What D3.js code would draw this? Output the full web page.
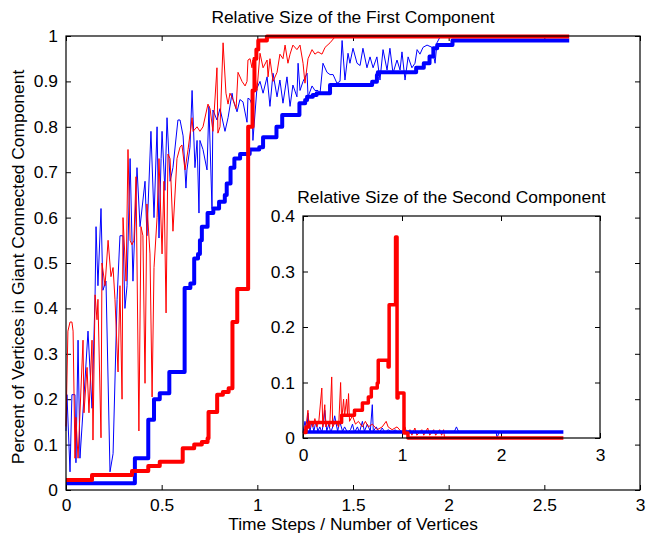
<!DOCTYPE html>
<html>
<head>
<meta charset="utf-8">
<script src="https://cdn.jsdelivr.net/npm/d3@7"></script>
<style>
  html, body { margin: 0; padding: 0; background: #fff; }
  svg { display: block; }
  text { font-family: "Liberation Sans", Arial, Helvetica, sans-serif; fill: #000; }
</style>
</head>
<body>
<div id="chart"></div>
<script>
// ---------------- DATA ----------------
const mainTitle = "Relative Size of the First Component";
const insetTitle = "Relative Size of the Second Component";
const xAxisLabel = "Time Steps / Number of Vertices";
const yAxisLabel = "Percent of Vertices in Giant Connected Component";

const mainXTicks = [0, 0.5, 1, 1.5, 2, 2.5, 3];
const mainYTicks = [0, 0.1, 0.2, 0.3, 0.4, 0.5, 0.6, 0.7, 0.8, 0.9, 1];
const insetXTicks = [0, 1, 2, 3];
const insetYTicks = [0, 0.1, 0.2, 0.3, 0.4];

// thin blue, first component
const blueThinT = [0.000,0.005,0.021,0.031,0.047,0.052,0.063,0.073,0.099,0.115,0.136,0.152,0.157,0.167,0.183,0.193,0.209,0.230,0.246,0.267,0.282,0.298,0.308,0.319,0.335,0.350,0.371,0.387,0.413,0.423,0.444,0.460,0.476,0.486,0.497,0.502,0.517,0.528,0.544,0.559,0.585,0.596,0.612,0.627,0.632,0.648,0.659,0.674,0.685,0.695,0.700,0.716,0.737,0.747,0.763,0.768,0.789,0.805,0.831,0.847,0.868,0.873,0.894,0.909,0.925,0.946,0.951,0.962,0.972,0.977,0.998,1.014,1.030,1.051,1.066,1.082,1.103,1.118,1.134,1.155,1.171,1.186,1.207,1.213,1.223,1.239,1.260,1.265,1.286,1.301,1.317,1.328,1.343,1.364,1.380,1.396,1.416,1.432,1.443,1.458,1.474,1.484,1.500,1.521,1.537,1.552,1.573,1.589,1.605,1.625,1.641,1.657,1.678,1.693,1.709,1.730,1.746,1.756,1.772,1.788,1.808,1.824,1.835,1.850,1.866,1.887,1.913,1.929,1.939,1.955,2.002];
const blueThinV = [0.13,0.21,0.04,0.21,0.21,0.06,0.33,0.07,0.24,0.35,0.18,0.43,0.58,0.45,0.62,0.44,0.46,0.04,0.08,0.42,0.56,0.56,0.40,0.45,0.73,0.46,0.71,0.58,0.68,0.56,0.79,0.60,0.80,0.555,0.73,0.79,0.66,0.82,0.68,0.71,0.815,0.815,0.78,0.665,0.705,0.755,0.88,0.71,0.77,0.61,0.77,0.75,0.705,0.845,0.62,0.837,0.815,0.84,0.79,0.82,0.874,0.86,0.833,0.86,0.855,0.81,0.863,0.86,0.848,0.77,0.885,0.90,0.874,0.91,0.845,0.918,0.866,0.903,0.852,0.91,0.845,0.892,0.866,0.94,0.88,0.90,0.918,0.866,0.89,0.88,0.88,0.875,0.94,0.92,0.915,0.915,0.896,0.90,0.99,0.903,0.962,0.94,0.973,0.94,0.935,0.973,0.93,0.954,0.93,0.954,0.903,0.97,0.925,0.973,0.918,0.947,0.925,0.965,0.903,0.954,0.93,0.94,0.97,0.96,0.975,0.98,0.975,0.94,0.985,0.998,0.998];

// thin red, first component
const redThinT = [0.000,0.010,0.021,0.031,0.037,0.047,0.052,0.063,0.089,0.094,0.110,0.120,0.136,0.141,0.152,0.162,0.167,0.183,0.188,0.204,0.220,0.235,0.246,0.256,0.272,0.282,0.293,0.298,0.314,0.324,0.335,0.345,0.355,0.366,0.381,0.392,0.402,0.413,0.423,0.439,0.450,0.460,0.476,0.486,0.502,0.512,0.523,0.533,0.544,0.559,0.580,0.596,0.606,0.622,0.638,0.659,0.664,0.685,0.700,0.716,0.742,0.753,0.768,0.789,0.794,0.805,0.821,0.836,0.847,0.857,0.873,0.889,0.899,0.920,0.936,0.946,0.951,0.962,0.972,0.977,0.998,1.014,1.030,1.051,1.056,1.066,1.082,1.103,1.118,1.134,1.145,1.160,1.171,1.186,1.207,1.223,1.239,1.249,1.265,1.286,1.301,1.317,1.338,1.354,1.380,1.406,2.002];
const redThinV = [0.14,0.35,0.37,0.37,0.35,0.07,0.16,0.07,0.33,0.17,0.27,0.17,0.33,0.11,0.43,0.375,0.42,0.115,0.50,0.45,0.55,0.47,0.49,0.42,0.26,0.45,0.20,0.60,0.46,0.75,0.55,0.54,0.55,0.69,0.13,0.58,0.56,0.235,0.63,0.52,0.205,0.49,0.60,0.73,0.52,0.68,0.39,0.74,0.73,0.57,0.73,0.755,0.76,0.705,0.75,0.82,0.79,0.80,0.79,0.80,0.85,0.84,0.79,0.93,0.786,0.80,0.985,0.874,0.85,0.874,0.86,0.84,0.92,0.90,0.89,0.90,0.947,0.95,0.93,0.947,0.88,0.962,0.93,0.947,0.91,0.95,0.90,0.92,0.96,0.95,0.98,0.94,0.96,0.98,0.97,0.98,0.94,0.896,0.95,0.97,0.96,0.965,0.96,0.975,0.985,0.998,0.998];

// thick blue, first component (step changes)
const blueThickT = [0,0.36,0.43,0.46,0.49,0.54,0.62,0.65,0.67,0.69,0.70,0.71,0.74,0.77,0.80,0.83,0.84,0.86,0.88,0.91,0.96,1.01,1.03,1.10,1.13,1.22,1.25,1.26,1.29,1.31,1.38,1.60,1.625,1.63,1.83,1.87,1.90,1.92,1.94,2.02,2.63];
const blueThickV = [0.015,0.07,0.155,0.20,0.213,0.26,0.445,0.455,0.51,0.52,0.55,0.58,0.61,0.62,0.635,0.65,0.675,0.71,0.73,0.74,0.75,0.755,0.777,0.80,0.826,0.852,0.859,0.866,0.87,0.874,0.892,0.899,0.914,0.92,0.93,0.94,0.955,0.973,0.98,0.99,0.99];

// thick red, first component (step changes)
const redThickT = [0,0.136,0.345,0.43,0.49,0.61,0.67,0.71,0.74,0.745,0.79,0.82,0.85,0.87,0.895,0.952,0.975,0.985,0.995,1.005,1.05,2.63];
const redThickV = [0.022,0.033,0.042,0.053,0.062,0.092,0.10,0.106,0.114,0.172,0.21,0.216,0.224,0.37,0.443,0.80,0.88,0.95,0.97,0.99,0.999,0.999];

// second component (inset)
const blueThinT2 = [0,0.02,0.04,0.05,0.07,0.09,0.11,0.13,0.15,0.17,0.19,0.21,0.22,0.24,0.26,0.28,0.30,0.32,0.35,0.37,0.40,0.42,0.45,0.48,0.50,0.52,0.55,0.57,0.60,0.62,0.65,0.68,0.70,0.71,0.74,0.77,0.80,0.83,0.86,0.90,0.93,0.96,1.00,1.53,1.55,1.57,1.95,1.96,1.98,2.00];
const blueThinV2 = [0.01,0.03,0.012,0.045,0.012,0.029,0.012,0.03,0.012,0.02,0.01,0.03,0.05,0.012,0.025,0.01,0.02,0.04,0.012,0.03,0.012,0.02,0.01,0.015,0.025,0.01,0.02,0.01,0.03,0.012,0.025,0.012,0.06,0.012,0.02,0.01,0.018,0.01,0.015,0.01,0.015,0.01,0.012,0.012,0.02,0.012,0.012,0.0,0.01,0.012];
const redThinT2 = [0,0.03,0.05,0.06,0.08,0.10,0.12,0.14,0.16,0.19,0.20,0.22,0.23,0.25,0.27,0.29,0.30,0.33,0.36,0.38,0.39,0.41,0.42,0.44,0.45,0.46,0.47,0.50,0.53,0.56,0.60,0.63,0.66,0.70,0.75,0.80,0.84,0.86,0.90,0.95,1.00,1.03,1.05,1.08,1.10,1.13,1.15,1.20,1.22,1.26,1.28,1.32,1.34,1.38,1.40,1.42,1.43,2.00];
const redThinV2 = [0.01,0.02,0.05,0.02,0.03,0.02,0.035,0.02,0.03,0.09,0.02,0.06,0.02,0.03,0.02,0.11,0.02,0.03,0.02,0.10,0.03,0.07,0.04,0.07,0.04,0.08,0.03,0.04,0.025,0.03,0.02,0.03,0.02,0.025,0.015,0.02,0.03,0.02,0.015,0.02,0.01,0.02,0.008,0.015,0.005,0.018,0.005,0.015,0.005,0.018,0.005,0.015,0.005,0.015,0.005,0.015,0.0,0.0];
const blueThickT2 = [0, 2.63];
const blueThickV2 = [0.011, 0.011];
const redThickT2 = [0,0.03,0.06,0.39,0.52,0.60,0.66,0.69,0.75,0.76,0.86,0.87,0.935,0.95,0.96,1.02,1.06,2.63];
const redThickV2 = [0.01,0.02,0.028,0.041,0.05,0.063,0.074,0.09,0.099,0.14,0.128,0.24,0.362,0.072,0.081,0.009,0.0,0.0];

// ---------------- DRAW ----------------
const W = 646, H = 533;
const FONT = 17.4;
const svg = d3.select("#chart").append("svg").attr("width", W).attr("height", H);

const zip = (t, v) => t.map((d, i) => [d, v[i]]);

function panel(g, box, xDom, yDom, xTicks, yTicks, xFmt, yFmt, series, xPad) {
  const x = d3.scaleLinear().domain(xDom).range([box.l, box.r]);
  const y = d3.scaleLinear().domain(yDom).range([box.b, box.t]);
  g.append("rect").attr("x", box.l).attr("y", box.t)
    .attr("width", box.r - box.l).attr("height", box.b - box.t)
    .attr("fill", "#fff");
  const tick = 5;
  const styleAxis = a => {
    a.select(".domain").remove();
    a.selectAll("line").attr("stroke", "#000").attr("stroke-width", 1);
    a.selectAll("text").style("font-size", FONT + "px").attr("fill", "#000")
      .style("font-family", '"Liberation Sans", Arial, Helvetica, sans-serif');
  };
  g.append("g").attr("transform", `translate(0,${box.b})`)
    .call(d3.axisBottom(x).tickValues(xTicks).tickFormat(xFmt).tickSizeInner(-tick).tickSizeOuter(0).tickPadding(xPad))
    .call(styleAxis);
  g.append("g").attr("transform", `translate(0,${box.t})`)
    .call(d3.axisTop(x).tickValues(xTicks).tickFormat("").tickSizeInner(-tick).tickSizeOuter(0))
    .call(styleAxis);
  g.append("g").attr("transform", `translate(${box.l},0)`)
    .call(d3.axisLeft(y).tickValues(yTicks).tickFormat(yFmt).tickSizeInner(-tick).tickSizeOuter(0).tickPadding(8))
    .call(styleAxis);
  g.append("g").attr("transform", `translate(${box.r},0)`)
    .call(d3.axisRight(y).tickValues(yTicks).tickFormat("").tickSizeInner(-tick).tickSizeOuter(0))
    .call(styleAxis);

  series.forEach(s => {
    const line = d3.line().x(d => x(d[0])).y(d => y(d[1]))
      .curve(s.step ? d3.curveStepAfter : d3.curveLinear);
    g.append("path").datum(s.data)
      .attr("d", line).attr("fill", "none")
      .attr("stroke", s.color).attr("stroke-width", s.w)
      .attr("stroke-linejoin", "round").attr("stroke-linecap", "butt");
  });

  g.append("rect").attr("x", box.l).attr("y", box.t)
    .attr("width", box.r - box.l).attr("height", box.b - box.t)
    .attr("fill", "none").attr("stroke", "#000").attr("stroke-width", 1.2);
  return { x, y };
}

const numFmt = d => String(+d.toFixed(2));

const mainBox = { l: 66, r: 640, t: 36, b: 490 };
const gMain = svg.append("g");
panel(gMain, mainBox, [0, 3], [0, 1], mainXTicks, mainYTicks, numFmt, numFmt, [
  { data: zip(blueThinT, blueThinV), color: "#0000ff", w: 1, step: false },
  { data: zip(redThinT, redThinV), color: "#ff0000", w: 1, step: false },
  { data: zip(blueThickT, blueThickV), color: "#0000ff", w: 4, step: true },
  { data: zip(redThickT, redThickV), color: "#ff0000", w: 4, step: true }
], 9);

svg.append("text").attr("x", (mainBox.l + mainBox.r) / 2).attr("y", 23)
  .attr("text-anchor", "middle").style("font-size", FONT + "px").text(mainTitle);
svg.append("text").attr("x", (mainBox.l + mainBox.r) / 2).attr("y", 530)
  .attr("text-anchor", "middle").style("font-size", FONT + "px").text(xAxisLabel);
svg.append("text").attr("transform", `translate(24,267) rotate(-90)`)
  .attr("text-anchor", "middle").style("font-size", FONT + "px").text(yAxisLabel);

const insetBox = { l: 303, r: 600, t: 216, b: 438 };
const gInset = svg.append("g");
panel(gInset, insetBox, [0, 3], [0, 0.4], insetXTicks, insetYTicks, numFmt, numFmt, [
  { data: zip(blueThinT2, blueThinV2), color: "#0000ff", w: 1, step: false },
  { data: zip(redThinT2, redThinV2), color: "#ff0000", w: 1, step: false },
  { data: zip(blueThickT2, blueThickV2), color: "#0000ff", w: 3.5, step: true },
  { data: zip(redThickT2, redThickV2), color: "#ff0000", w: 3.5, step: true }
], 11);
svg.append("text").attr("x", (insetBox.l + insetBox.r) / 2).attr("y", 203)
  .attr("text-anchor", "middle").style("font-size", FONT + "px").text(insetTitle);
</script>
</body>
</html>
